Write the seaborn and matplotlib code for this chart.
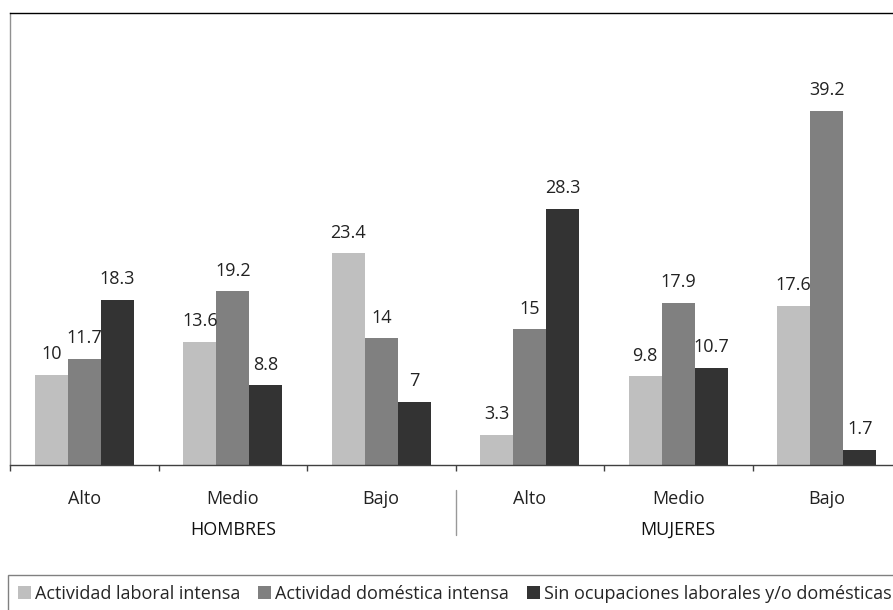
import numpy as np
import pandas as pd
import matplotlib
matplotlib.use('Agg')
import matplotlib.pyplot as plt
import seaborn as sb
from matplotlib.patches import Patch

# datos
grupos = ['HOMBRES', 'MUJERES']
niveles = ['Alto', 'Medio', 'Bajo']
series = ['Actividad laboral intensa',
          'Actividad doméstica intensa',
          'Sin ocupaciones laborales y/o domésticas']
laboral = [10, 13.6, 23.4, 3.3, 9.8, 17.6]
domestica = [11.7, 19.2, 14, 15, 17.9, 39.2]
sin_ocup = [18.3, 8.8, 7, 28.3, 10.7, 1.7]
colores = ['#bfbfbf', '#808080', '#333333']

categorias = [g + '-' + n for g in grupos for n in niveles]
filas = []
for serie, valores in zip(series, [laboral, domestica, sin_ocup]):
    for cat, v in zip(categorias, valores):
        filas.append({'cat': cat, 'serie': serie, 'valor': v})
df = pd.DataFrame(filas)

sb.set_style('white')
plt.rcParams['font.family'] = ['Open Sans', 'DejaVu Sans']

fig = plt.figure(figsize=(8.93, 6.10), dpi=100)
ax = fig.add_axes([10 / 893, 1 - 465 / 610, 891 / 893, 452 / 610])

sb.barplot(data=df, x='cat', y='valor', hue='serie', order=categorias,
           hue_order=series, palette=colores, saturation=1, width=0.667,
           gap=0, legend=False, linewidth=0, edgecolor='none', ax=ax)

for cont, valores in zip(ax.containers, [laboral, domestica, sin_ocup]):
    ax.bar_label(cont, labels=[f'{v:g}' for v in valores], padding=8.5,
                 fontsize=13, color='#222222')

ax.set_ylim(0, 50)
ax.set_xlim(-0.5, 5.5)
ax.set_yticks([])
ax.set_xticks([])
ax.set_xticks(np.arange(-0.5, 6, 1), minor=True)
ax.tick_params(axis='x', which='minor', length=4.5, width=1,
               color='#404040', bottom=True)
ax.set_xlabel('')
ax.set_ylabel('')

ax.spines['top'].set_color('black')
ax.spines['left'].set_color('#909090')
ax.spines['bottom'].set_color('#404040')
ax.spines['right'].set_color('#909090')
for s in ax.spines.values():
    s.set_linewidth(1)

trans = ax.get_xaxis_transform()
for i, n in enumerate(niveles * 2):
    ax.text(i, -0.0852, n, transform=trans, ha='center', va='baseline',
            fontsize=13, color='#222222')
for j, g in enumerate(grupos):
    ax.text(1 + 3 * j, -0.155, g, transform=trans, ha='center',
            va='baseline', fontsize=13, color='#111111')
ax.plot([2.5, 2.5], [-0.055, -0.155], transform=trans, color='#999999',
        lw=1, clip_on=False)

manejadores = [Patch(facecolor=c, edgecolor='none', label=s)
               for c, s in zip(colores, series)]
fig.legend(handles=manejadores, loc='upper left',
           bbox_to_anchor=(8 / 893, 1 - 575 / 610), ncol=3, fontsize=13,
           frameon=True, fancybox=False, edgecolor='#808080',
           framealpha=1, handlelength=0.72, handleheight=0.72,
           handletextpad=0.25, columnspacing=0.95, borderpad=0.55,
           borderaxespad=0)

fig.savefig('out.png', dpi=100)
